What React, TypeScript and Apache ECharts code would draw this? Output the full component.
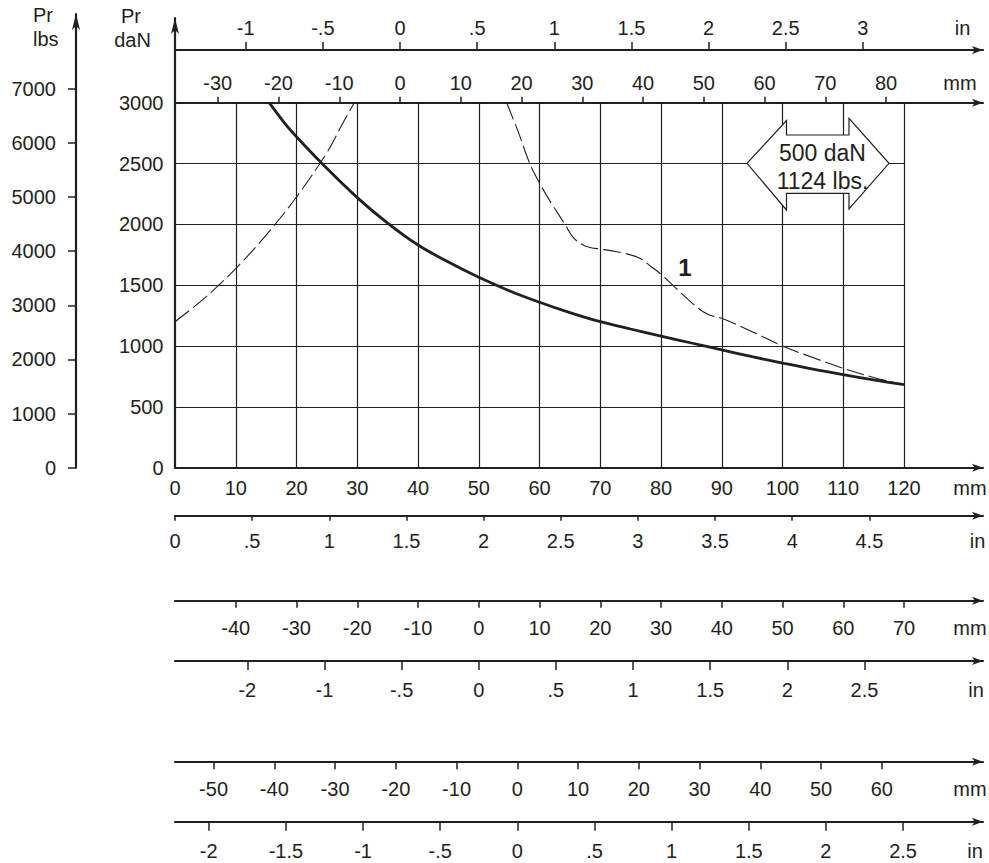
import React, { useEffect, useRef } from "react";
import * as echarts from "echarts";

// ---------- scale constants ----------
const PX_PER_MM = 6.075;
const PX_PER_DAN = 365 / 3000;
const MM_PER_IN = 25.4;
const DAN_PER_LBS = 0.4448222;
const PX_PER_LBS = PX_PER_DAN * DAN_PER_LBS;

// ---------- data ----------
const solidX = [15.5, 18, 20, 24.2, 30, 35, 40, 45, 50, 55, 60, 65, 70, 75, 80, 85, 90, 95, 100, 105, 110, 115, 120];
const solidY = [3000, 2835, 2720, 2500, 2220, 2010, 1830, 1690, 1565, 1455, 1360, 1275, 1200, 1140, 1082, 1025, 968, 912, 860, 810, 765, 722, 682];

const dashLeftX = [0, 5, 10, 15, 20, 25, 27.5, 29.5];
const dashLeftY = [1200, 1400, 1637, 1912, 2225, 2590, 2820, 3000];

const dashRightX = [54.6, 56.5, 58.4, 60, 62, 64.2, 65.5, 67, 68.5, 70, 72, 74, 76.5, 78.5, 80, 83, 86.4, 88, 90, 95, 100, 105, 110, 115, 120];
const dashRightY = [3000, 2760, 2500, 2340, 2170, 2000, 1895, 1835, 1808, 1797, 1782, 1762, 1722, 1648, 1590, 1450, 1300, 1255, 1228, 1118, 1000, 905, 817, 742, 682];

const gridLinesMm = [10, 20, 30, 40, 50, 60, 70, 80, 90, 100, 110, 120];
const gridLinesDaN = [500, 1000, 1500, 2000, 2500];

const daNTicks = [0, 500, 1000, 1500, 2000, 2500, 3000];
const lbsTicks = [0, 1000, 2000, 3000, 4000, 5000, 6000, 7000];

const mainMmTicks = [0, 10, 20, 30, 40, 50, 60, 70, 80, 90, 100, 110, 120];
const mainMmLabels = mainMmTicks.map(String);

const topInTicks = [-1, -0.5, 0, 0.5, 1, 1.5, 2, 2.5, 3];
const topInLabels = ["-1", "-.5", "0", ".5", "1", "1.5", "2", "2.5", "3"];
const topMmTicks = [-30, -20, -10, 0, 10, 20, 30, 40, 50, 60, 70, 80];
const topMmLabels = topMmTicks.map(String);

const in2Ticks = [0, 0.5, 1, 1.5, 2, 2.5, 3, 3.5, 4, 4.5];
const in2Labels = ["0", ".5", "1", "1.5", "2", "2.5", "3", "3.5", "4", "4.5"];
const mm3Ticks = [-40, -30, -20, -10, 0, 10, 20, 30, 40, 50, 60, 70];
const mm3Labels = mm3Ticks.map(String);
const in4Ticks = [-1.5, -1, -0.5, 0, 0.5, 1, 1.5, 2, 2.5];
const in4Labels = ["-2", "-1", "-.5", "0", ".5", "1", "1.5", "2", "2.5"];
const mm5Ticks = [-50, -40, -30, -20, -10, 0, 10, 20, 30, 40, 50, 60];
const mm5Labels = mm5Ticks.map(String);
const in6Ticks = [-2, -1.5, -1, -0.5, 0, 0.5, 1, 1.5, 2, 2.5];
const in6Labels = ["-2", "-1.5", "-1", "-.5", "0", ".5", "1", "1.5", "2", "2.5"];

// zero positions of the auxiliary scales, in main-axis mm
const TOP_ZERO_MM = 37.04;
const MM3_ZERO_MM = 50;
const MM5_ZERO_MM = 56.35;

// ---------- layout ----------
const INK = "#231f20";
const FONT = '"Liberation Sans", Arial, sans-serif';
const GRID_LEFT = 175;
const GRID_TOP = 18;
const GRID_W = 808;
const AXIS_Y = 467.7;
const GRID_H = AXIS_Y - GRID_TOP;
const LBS_LEFT = 76;
const LBS_TOP = 14;
const LBS_H = AXIS_Y - LBS_TOP;

const zip = (xs: number[], ys: number[]) => xs.map((x, i) => [x, ys[i]]);

function labelFor(ticks: number[], labels: string[]) {
  return (v: number) => {
    for (let i = 0; i < ticks.length; i++) if (Math.abs(ticks[i] - v) < 1e-6) return labels[i];
    return "";
  };
}

function hAxis(o: {
  position: "top" | "bottom";
  y: number;
  zeroMm: number;
  unitMm: number;
  ticks: number[];
  labels: string[];
  tickLen: number;
  margin: number;
  showTick?: boolean;
}) {
  const W = GRID_W / PX_PER_MM;
  const offset = o.position === "top" ? GRID_TOP - o.y : o.y - AXIS_Y;
  return {
    type: "value",
    gridIndex: 0,
    position: o.position,
    offset,
    min: -o.zeroMm / o.unitMm,
    max: (W - o.zeroMm) / o.unitMm,
    axisLine: {
      show: true,
      onZero: false,
      symbol: ["none", "arrow"],
      symbolSize: [6, 11],
      lineStyle: { color: INK, width: 2.2 },
    },
    axisTick: {
      show: o.showTick !== false,
      customValues: o.ticks,
      length: o.tickLen,
      lineStyle: { color: INK, width: 1.5 },
    },
    axisLabel: {
      customValues: o.ticks,
      margin: o.margin,
      formatter: labelFor(o.ticks, o.labels),
      color: INK,
      fontSize: 20,
      fontFamily: FONT,
    },
    splitLine: { show: false },
  };
}

const App: React.FC = () => {
  const ref = useRef<HTMLDivElement>(null);

  useEffect(() => {
    if (!ref.current) return;
    const chart = echarts.init(ref.current, undefined, { renderer: "svg" });

    const textEl = (text: string, x: number, y: number, align = "center", size = 20, weight = "normal") => ({
      type: "text",
      x,
      y,
      z: 101,
      style: {
        text,
        fill: INK,
        fontSize: size,
        fontFamily: FONT,
        fontWeight: weight,
        align,
        verticalAlign: "middle",
      },
    });

    const curve = (data: number[][], width: number, dashed: boolean) => ({
      type: "line",
      xAxisIndex: 0,
      yAxisIndex: 0,
      data,
      showSymbol: false,
      smooth: 0.35,
      lineStyle: { color: INK, width, type: dashed ? [18, 5] : "solid" },
      z: 3,
      silent: true,
    });

    const option: any = {
      animation: false,
      backgroundColor: "#ffffff",
      grid: [
        { left: GRID_LEFT, top: GRID_TOP, width: GRID_W, height: GRID_H },
        { left: LBS_LEFT, top: LBS_TOP, width: 1, height: LBS_H },
      ],
      xAxis: [
        hAxis({ position: "bottom", y: AXIS_Y, zeroMm: 0, unitMm: 1, ticks: mainMmTicks, labels: mainMmLabels, tickLen: 0, margin: 10.6, showTick: false }),
        hAxis({ position: "top", y: 50, zeroMm: TOP_ZERO_MM, unitMm: MM_PER_IN, ticks: topInTicks, labels: topInLabels, tickLen: 8, margin: 12.5 }),
        hAxis({ position: "top", y: 102.7, zeroMm: TOP_ZERO_MM, unitMm: 1, ticks: topMmTicks, labels: topMmLabels, tickLen: 6, margin: 10.2 }),
        hAxis({ position: "bottom", y: 515.7, zeroMm: 0, unitMm: MM_PER_IN, ticks: in2Ticks, labels: in2Labels, tickLen: 5, margin: 15.5 }),
        hAxis({ position: "bottom", y: 600.7, zeroMm: MM3_ZERO_MM, unitMm: 1, ticks: mm3Ticks, labels: mm3Labels, tickLen: 7, margin: 17 }),
        hAxis({ position: "bottom", y: 661, zeroMm: MM3_ZERO_MM, unitMm: MM_PER_IN, ticks: in4Ticks, labels: in4Labels, tickLen: 9, margin: 19 }),
        hAxis({ position: "bottom", y: 761.7, zeroMm: MM5_ZERO_MM, unitMm: 1, ticks: mm5Ticks, labels: mm5Labels, tickLen: 7.5, margin: 17.5 }),
        hAxis({ position: "bottom", y: 821.7, zeroMm: MM5_ZERO_MM, unitMm: MM_PER_IN, ticks: in6Ticks, labels: in6Labels, tickLen: 9, margin: 19 }),
        { type: "value", gridIndex: 1, show: false, min: 0, max: 1 },
      ],
      yAxis: [
        {
          type: "value",
          gridIndex: 0,
          position: "left",
          min: 0,
          max: GRID_H / PX_PER_DAN,
          axisLine: {
            show: true,
            onZero: false,
            symbol: ["none", "arrow"],
            symbolSize: [6, 16],
            lineStyle: { color: INK, width: 2.2 },
          },
          axisTick: { show: false },
          axisLabel: {
            customValues: daNTicks,
            margin: 11.5,
            formatter: (v: number) => String(v),
            color: INK,
            fontSize: 20,
            fontFamily: FONT,
          },
          splitLine: { show: false },
        },
        {
          type: "value",
          gridIndex: 1,
          position: "left",
          min: 0,
          max: LBS_H / PX_PER_LBS,
          axisLine: {
            show: true,
            onZero: false,
            symbol: ["none", "arrow"],
            symbolSize: [6, 16],
            lineStyle: { color: INK, width: 2.2 },
          },
          axisTick: {
            show: true,
            customValues: lbsTicks,
            length: 8,
            lineStyle: { color: INK, width: 1.5 },
          },
          axisLabel: {
            customValues: lbsTicks,
            margin: 20,
            formatter: (v: number) => String(v),
            color: INK,
            fontSize: 20,
            fontFamily: FONT,
          },
          splitLine: { show: false },
        },
      ],
      series: [
        {
          type: "line",
          xAxisIndex: 0,
          yAxisIndex: 0,
          data: [],
          z: 1,
          silent: true,
          markLine: {
            silent: true,
            symbol: ["none", "none"],
            label: { show: false },
            lineStyle: { color: INK, width: 1.2, type: "solid" },
            data: [
              ...gridLinesMm.map((x) => [{ coord: [x, 0] }, { coord: [x, 3000] }]),
              ...gridLinesDaN.map((y) => [{ coord: [0, y] }, { coord: [120, y] }]),
            ],
          },
        },
        curve(zip(solidX, solidY), 2.8, false),
        curve(zip(dashLeftX, dashLeftY), 1.1, true),
        curve(zip(dashRightX, dashRightY), 1.1, true),
      ],
      graphic: [
        textEl("Pr", 33, 15, "left"),
        textEl("lbs", 33, 38.5, "left"),
        textEl("Pr", 131, 16.3),
        textEl("daN", 132.5, 39.7),
        textEl("in", 962.5, 27.5),
        textEl("mm", 960, 82.5),
        textEl("mm", 970, 488.3),
        textEl("in", 977.5, 541.2),
        textEl("mm", 970, 627.8),
        textEl("in", 976, 690),
        textEl("mm", 970, 789.2),
        textEl("in", 975, 850.8),
        {
          type: "polygon",
          z: 100,
          shape: {
            points: [
              [747, 163.3],
              [786.5, 120.5],
              [786.5, 135],
              [849, 135],
              [849, 118.3],
              [889, 163.3],
              [849, 209],
              [849, 193.3],
              [786.5, 193.3],
              [786.5, 210],
            ],
          },
          style: { fill: "#ffffff", stroke: INK, lineWidth: 1.2 },
        },
        textEl("500 daN", 822.5, 152.5, "center", 23),
        textEl("1124 lbs.", 822.5, 180.8, "center", 23),
        textEl("1", 685, 267.5, "center", 24, "bold"),
      ],
    };

    chart.setOption(option);
    return () => chart.dispose();
  }, []);

  return (
    <div
      ref={ref}
      style={{ position: "absolute", left: 0, top: 0, width: 989, height: 863, background: "#fff" }}
    />
  );
};

export default App;
